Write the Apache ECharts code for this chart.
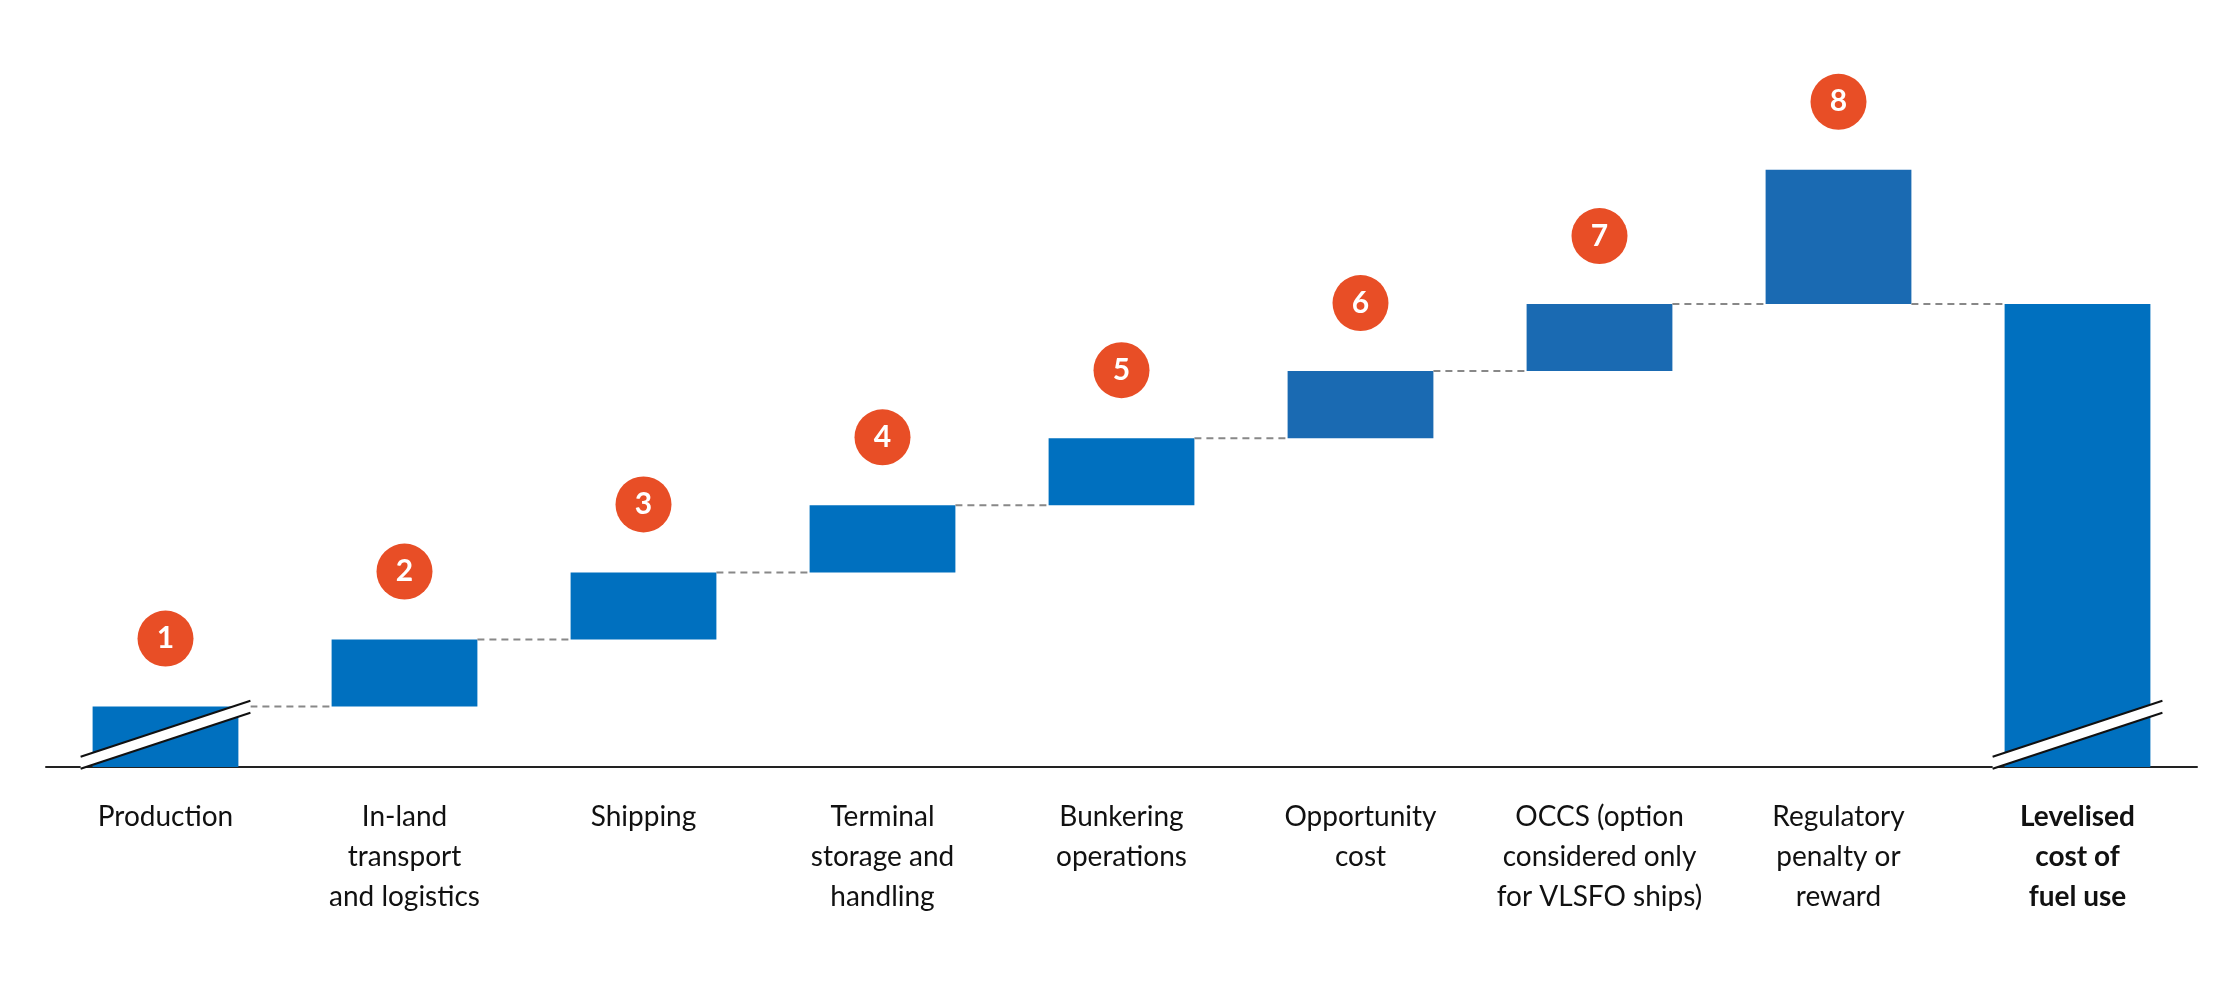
<!DOCTYPE html>
<html><head><meta charset="utf-8">
<script src="https://cdn.jsdelivr.net/npm/echarts@6/dist/echarts.min.js"></script>
<style>html,body{margin:0;padding:0;background:#fff}#c{width:2215px;height:984px}</style>
</head><body><div id="c"></div>
<script>
const categories = ['Production','In-land\ntransport\nand logistics','Shipping','Terminal\nstorage and\nhandling','Bunkering\noperations','Opportunity\ncost','OCCS (option\nconsidered only\nfor VLSFO ships)','Regulatory\npenalty or\nreward','Levelised\ncost of\nfuel use'];
const baseValues = [0, 0.9, 1.9, 2.9, 3.9, 4.9, 5.9, 6.9, 0];
const stepValues = [0.9, 1.0, 1.0, 1.0, 1.0, 1.0, 1.0, 2.0, 6.9];
const stepNumbers = ['1','2','3','4','5','6','7','8',''];
const connectorLevels = [0.9, 1.9, 2.9, 3.9, 4.9, 5.9, 6.9, 6.9];
const breakCategories = [0, 8];
const barColors = ['#0070bf','#0070bf','#0070bf','#0070bf','#0070bf','#1a6ab2','#1a6ab2','#1a6ab2','#0070bf'];

const chart = echarts.init(document.getElementById('c'));
const BW = 0.61;
chart.setOption({
  animation:false,
  grid:{left:46,right:18,top:96,bottom:217},
  xAxis:{type:'category',data:categories,axisTick:{show:false},
    axisLine:{lineStyle:{color:'#222',width:2}},
    axisLabel:{margin:30,fontFamily:'Lato',fontSize:28,lineHeight:40,color:'#111',interval:0,
      formatter:(v,i)=> i===8 ? v.split('\n').map(s=>'{b|'+s+'}').join('\n') : v,
      rich:{b:{fontWeight:'bold',fontFamily:'Lato',fontSize:28,lineHeight:40,color:'#111'}}}},
  yAxis:{type:'value',min:0,max:10,show:false,splitLine:{show:false}},
  series:[
    {type:'bar',stack:'w',data:baseValues,itemStyle:{color:'transparent'},barWidth:(BW*100)+'%',silent:true},
    {type:'bar',stack:'w',barWidth:(BW*100)+'%',
      data:stepValues.map((v,i)=>({value:v,itemStyle:{color:barColors[i]}})),
      label:{show:true,position:'top',distance:40,
        formatter:p=> stepNumbers[p.dataIndex] ? '{c|'+stepNumbers[p.dataIndex]+'}' : '',
        rich:{c:{backgroundColor:'#e84e26',borderRadius:28,width:56,height:56,lineHeight:56,align:'center',
          color:'#fff',fontFamily:'Lato',fontWeight:'bold',fontSize:30}}}},
    {type:'custom',silent:true,z:5,data:connectorLevels.map((l,i)=>[i,l]),
      renderItem:(params,api)=>{
        const p=api.coord([api.value(0),api.value(1)]);
        const bw=api.size([1,0])[0];
        const h=bw*BW/2;
        return {type:'line',shape:{x1:p[0]+h,y1:p[1],x2:p[0]+bw-h,y2:p[1]},
          style:{stroke:'#888',lineWidth:2,lineDash:[7,5]}};
      }},
    {type:'custom',silent:true,z:10,data:breakCategories.map(c=>[c,0.48]),
      renderItem:(params,api)=>{
        const p=api.coord([api.value(0),api.value(1)]);
        const bw=api.size([1,0])[0];
        const h=bw*BW/2+12, dy=28, g=6;
        return {type:'group',children:[
          {type:'polygon',shape:{points:[[p[0]-h,p[1]+dy-g],[p[0]+h,p[1]-dy-g],[p[0]+h,p[1]-dy+g],[p[0]-h,p[1]+dy+g]]},style:{fill:'#fff'}},
          {type:'line',shape:{x1:p[0]-h,y1:p[1]+dy-g,x2:p[0]+h,y2:p[1]-dy-g},style:{stroke:'#111',lineWidth:2}},
          {type:'line',shape:{x1:p[0]-h,y1:p[1]+dy+g,x2:p[0]+h,y2:p[1]-dy+g},style:{stroke:'#111',lineWidth:2}}
        ]};
      }}
  ]
});
</script></body></html>
